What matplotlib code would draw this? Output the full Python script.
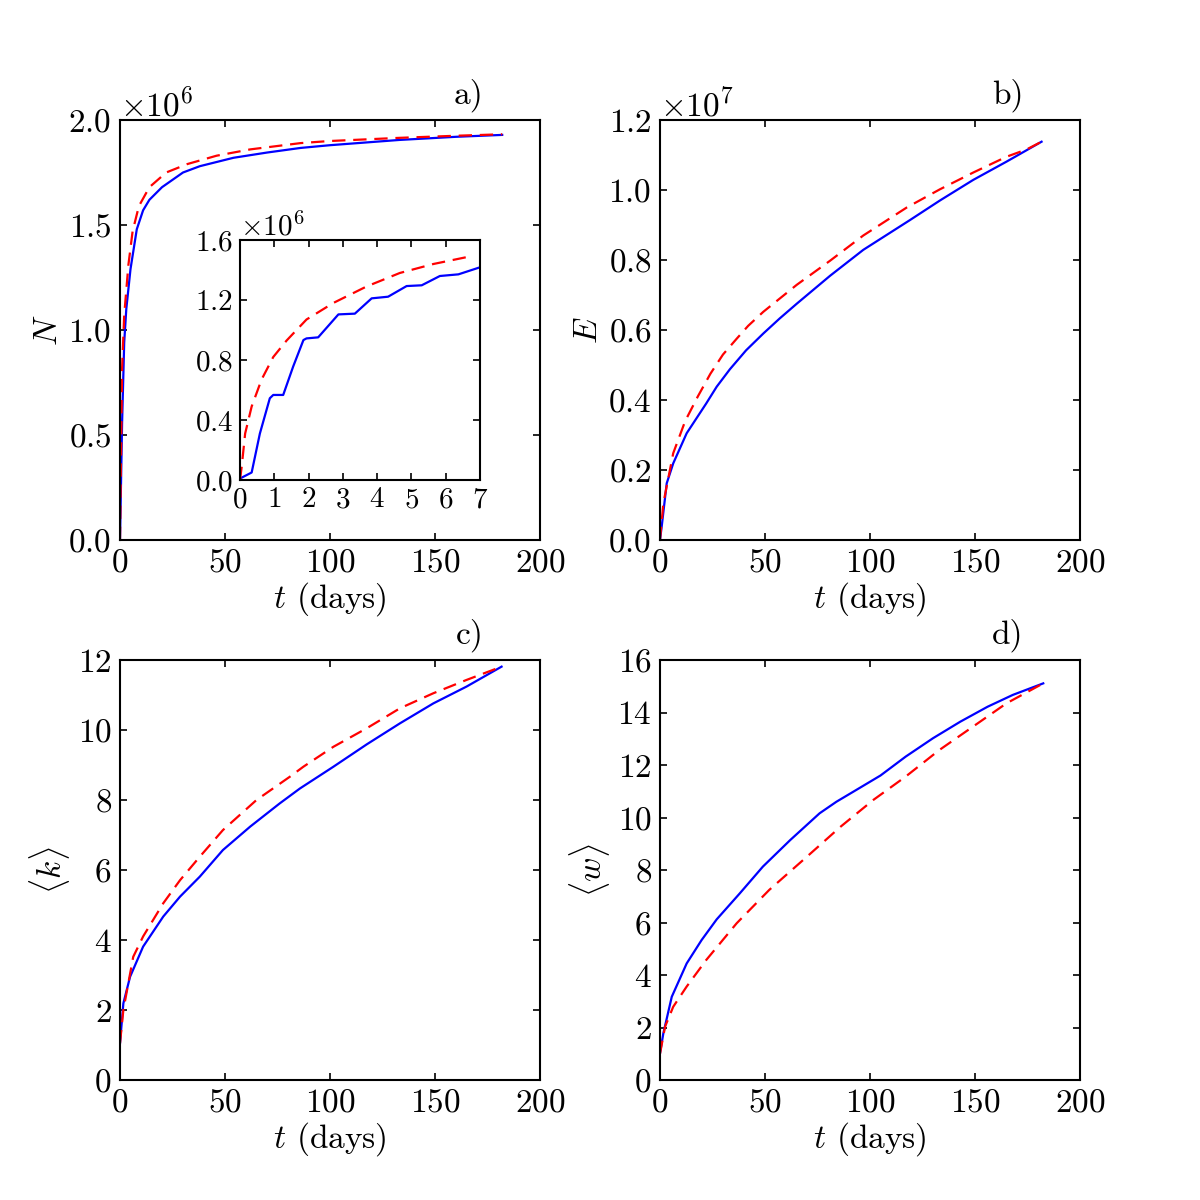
import matplotlib
matplotlib.use("Agg")
import matplotlib.pyplot as plt
from matplotlib.ticker import MultipleLocator

# old-style look: Computer Modern text, ticks inside on all sides
plt.rcParams['font.family'] = 'serif'
plt.rcParams['font.serif'] = ['cmr10']
plt.rcParams['mathtext.fontset'] = 'cm'
plt.rcParams['axes.formatter.use_mathtext'] = True
plt.rcParams['axes.unicode_minus'] = False
plt.rcParams['xtick.direction'] = 'in'
plt.rcParams['ytick.direction'] = 'in'
plt.rcParams['xtick.top'] = True
plt.rcParams['ytick.right'] = True
plt.rcParams['xtick.major.size'] = 5
plt.rcParams['ytick.major.size'] = 5
plt.rcParams['axes.linewidth'] = 1.5

# a) number of nodes N (in units of 1e6)
t_n_blue = [0, 1, 2, 3, 5, 8, 11, 14, 20, 30, 38, 54, 70, 86, 100, 133, 160, 182]
n_blue = [0.0, 0.56, 0.94, 1.10, 1.29, 1.48, 1.57, 1.62, 1.68, 1.75, 1.78,
          1.82, 1.845, 1.867, 1.88, 1.905, 1.92, 1.929]
t_n_red = [0, 1, 2, 4, 6, 9, 14, 22, 32, 46, 62, 86, 100, 133, 160, 182]
n_red = [0.0, 0.82, 1.07, 1.31, 1.47, 1.59, 1.68, 1.75, 1.79, 1.83, 1.86,
         1.89, 1.90, 1.915, 1.925, 1.932]

# inset: first week
t_in_blue = [0, 0.34, 0.58, 0.87, 0.97, 1.26, 1.55, 1.85, 1.94, 2.28, 2.87,
             3.35, 3.84, 4.32, 4.86, 5.30, 5.83, 6.37, 7.0]
n_in_blue = [0.01, 0.05, 0.31, 0.545, 0.567, 0.567, 0.756, 0.933, 0.944,
             0.951, 1.104, 1.109, 1.211, 1.222, 1.293, 1.298, 1.36, 1.371, 1.418]
t_in_red = [0, 0.05, 0.15, 0.34, 0.63, 0.97, 1.36, 1.94, 2.72, 3.69, 4.66, 5.64, 6.7]
n_in_red = [0.0, 0.09, 0.31, 0.49, 0.67, 0.82, 0.93, 1.07, 1.18, 1.29, 1.38, 1.44, 1.49]

# b) number of edges E (in units of 1e6)
t_e_blue = [0, 0.8, 3.2, 6.3, 12.7, 22, 27, 33.3, 41, 49.2, 57, 65.1, 81,
            96.8, 119, 133.3, 149.2, 165, 181.7]
e_blue = [0, 0.38, 1.62, 2.19, 3.05, 3.9, 4.38, 4.88, 5.42, 5.9, 6.33, 6.75,
          7.55, 8.29, 9.14, 9.7, 10.29, 10.81, 11.38]
t_e_red = [0, 1.6, 6.3, 12, 18, 24, 30, 36.5, 42, 49.2, 65.1, 81, 96.8,
           117.5, 133.3, 149.2, 165, 174.6, 181.7]
e_red = [0, 1.05, 2.48, 3.4, 4.1, 4.75, 5.3, 5.75, 6.12, 6.52, 7.29, 7.98,
         8.7, 9.5, 10.02, 10.5, 10.95, 11.16, 11.38]

# c) mean degree <k>
t_k_blue = [0, 1.6, 4.8, 11, 20.6, 28.6, 38, 49, 62, 76, 85.7, 101.6, 117.5,
            133.3, 149.2, 165, 181.7]
k_blue = [1.05, 2.19, 2.95, 3.81, 4.67, 5.24, 5.81, 6.57, 7.24, 7.9, 8.33,
          8.95, 9.59, 10.19, 10.76, 11.24, 11.81]
t_k_red = [0, 1.6, 6.3, 11, 20.6, 28.6, 38, 49, 65, 81, 87.3, 101.6, 117.5,
           133.3, 149.2, 165, 181.7]
k_red = [1.05, 2.0, 3.52, 4.1, 5.05, 5.71, 6.38, 7.14, 8.0, 8.67, 8.95, 9.52,
         10.05, 10.62, 11.05, 11.43, 11.81]

# d) mean weight <w>
t_w_blue = [0, 1.6, 5.6, 12.7, 19.8, 27, 38, 49, 62, 76, 84, 92, 105, 117,
            130, 143, 156, 168, 182.5]
w_blue = [1.02, 1.78, 3.17, 4.44, 5.33, 6.12, 7.11, 8.13, 9.14, 10.16, 10.6,
          10.98, 11.6, 12.32, 13.02, 13.65, 14.22, 14.67, 15.11]
t_w_red = [0, 2.4, 6.3, 12.7, 22, 36.5, 52, 70, 86, 101.6, 117, 133, 149, 165, 182.5]
w_red = [1.0, 2.03, 2.79, 3.56, 4.57, 5.97, 7.24, 8.51, 9.65, 10.67, 11.56,
         12.57, 13.46, 14.35, 15.11]

fig = plt.figure(figsize=(12, 12), dpi=100)
ax_a = fig.add_axes([0.1, 0.55, 0.35, 0.35])
ax_b = fig.add_axes([0.55, 0.55, 0.35, 0.35])
ax_c = fig.add_axes([0.1, 0.1, 0.35, 0.35])
ax_d = fig.add_axes([0.55, 0.1, 0.35, 0.35])
ax_in = fig.add_axes([0.2, 0.6, 0.2, 0.2])

lw = 1.6
dash = (6, 3.5)


def draw(ax, tb, yb, tr, yr, scale=1.0):
    ax.plot(tb, [v * scale for v in yb], color='#0000ff', lw=lw)
    ax.plot(tr, [v * scale for v in yr], color='#ff0000', lw=lw,
            linestyle='--', dashes=dash)


draw(ax_a, t_n_blue, n_blue, t_n_red, n_red, 1e6)
draw(ax_b, t_e_blue, e_blue, t_e_red, e_red, 1e6)
draw(ax_c, t_k_blue, k_blue, t_k_red, k_red)
draw(ax_d, t_w_blue, w_blue, t_w_red, w_red)
draw(ax_in, t_in_blue, n_in_blue, t_in_red, n_in_red, 1e6)

ax_a.set_ylim(0, 2.0e6)
ax_a.yaxis.set_major_locator(MultipleLocator(0.5e6))
ax_b.set_ylim(0, 1.2e7)
ax_b.yaxis.set_major_locator(MultipleLocator(0.2e7))
ax_c.set_ylim(0, 12)
ax_c.yaxis.set_major_locator(MultipleLocator(2))
ax_d.set_ylim(0, 16)
ax_d.yaxis.set_major_locator(MultipleLocator(2))

for ax in (ax_a, ax_b, ax_c, ax_d):
    ax.set_xlim(0, 200)
    ax.xaxis.set_major_locator(MultipleLocator(50))
    ax.tick_params(labelsize=24, width=1.2, pad=6)
    ax.yaxis.get_offset_text().set_fontsize(24)
    ax.set_xlabel(r'$t$ (days)', fontsize=24, labelpad=2)

ax_a.set_ylabel(r'$N$', fontsize=24)
ax_b.set_ylabel(r'$E$', fontsize=24)
ax_c.set_ylabel(r'$\langle k\rangle$', fontsize=24)
ax_d.set_ylabel(r'$\langle w\rangle$', fontsize=24)

for ax, lab in zip((ax_a, ax_b, ax_c, ax_d), ('a)', 'b)', 'c)', 'd)')):
    ax.text(0.865, 1.02, lab, transform=ax.transAxes, ha='right',
            va='bottom', fontsize=24)

ax_in.set_xlim(0, 7)
ax_in.set_ylim(0, 1.6e6)
ax_in.xaxis.set_major_locator(MultipleLocator(1))
ax_in.yaxis.set_major_locator(MultipleLocator(0.4e6))
ax_in.tick_params(labelsize=21, width=1.2, pad=5)
ax_in.yaxis.get_offset_text().set_fontsize(21)

fig.savefig('out.png', dpi=100, facecolor='white')
